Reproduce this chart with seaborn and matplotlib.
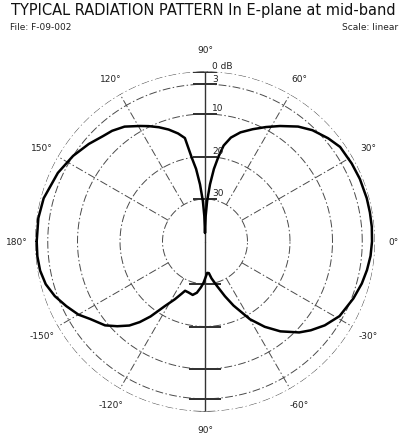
import numpy as np
import pandas as pd
import matplotlib
matplotlib.use("Agg")
import matplotlib.pyplot as plt
import matplotlib.transforms as mtransforms
import seaborn as sns

# ---- data ----
angles_deg = [-180, -175, -170, -165, -160, -155, -150, -146, -140, -136, -132, -129,
              -126, -122, -117.5, -114, -112, -108, -103, -99, -95, -92, -89, -86,
              -83, -80, -75, -70, -66, -60, -55, -50, -44, -40, -35, -29, -21, -15,
              -10, -5, 0, 5, 10, 15, 22, 28, 35, 40, 46, 51, 57, 62, 67, 72, 76,
              79, 81, 83, 85, 87, 88.5, 89.5, 90, 90.5, 91.5, 93, 95, 97, 99, 101,
              104, 108, 112, 116, 119.4, 125, 130, 134, 140, 147, 155, 165, 172, 180]
gain_db = [-0.4, -0.4, -0.6, -1.2, -2.4, -4.0, -5.6, -7.4, -9.3, -11.3, -13.4, -15.6,
           -18.2, -22.0, -24.7, -26.6, -27.5, -27.4, -27.1, -27.8, -29.2, -30.3, -31.6, -32.6,
           -32.5, -31.2, -29.2, -26.3, -23.5, -18.9, -15.5, -12.4, -9.2, -7.5, -5.6, -3.8, -2.6, -1.8,
           -1.3, -0.9, -0.7, -0.6, -0.6, -0.6, -0.7, -0.9, -1.2, -2.2, -3.6, -5.2, -7.6, -9.5, -11.3, -13.0, -14.8,
           -17.0, -19.8, -22.8, -26.5, -30.5, -34.0, -37.5, -38.0, -37.5, -34.0, -30.5, -26.5, -22.8, -20.0, -15.2,
           -13.8, -12.3, -11.0, -9.8, -8.8, -7.0, -6.0, -5.5, -4.3, -3.0, -1.8, -0.7, -0.4, -0.4]

ring_db = [0, -3, -10, -20, -30]
ring_labels = ["0 dB", "3", "10", "20", "30"]
spoke_deg = [30, 60, 120, 150, 210, 240, 300, 330]
theta_label_deg = [0, 30, 60, 90, 120, 150, 180, 210, 240, 270, 300, 330]
theta_labels = ["0°", "30°", "60°", "90°", "120°", "150°", "180°",
                "-150°", "-120°", "90°", "-60°", "-30°"]

title = "TYPICAL RADIATION PATTERN In E-plane at mid-band"
file_label = "File: F-09-002"
scale_label = "Scale: linear"

# ---- figure ----
sns.set_style("white")
plt.rcParams['font.family'] = ['DejaVu Sans']

W, H = 406, 439
fig = plt.figure(figsize=(W / 100, H / 100), dpi=100)
cx, cy, R = 205, 242.5, 170
ax = fig.add_axes([(cx - R) / W, (H - cy - R) / H, 2 * R / W, 2 * R / H], projection='polar')
ax.set_ylim(-40, 0)
ax.grid(False)
ax.set_xticks([])
ax.set_yticks([])
ax.spines['polar'].set_visible(False)
ax.patch.set_alpha(0)

grid_col = '#4a4a4a'
dash = (8, 2.5, 1.5, 2.5)
full = np.linspace(0, 2 * np.pi, 721)
for r in ring_db:
    ax.plot(full, np.full_like(full, r), color=grid_col, lw=0.7, dashes=dash)
for a in spoke_deg:
    ax.plot([np.deg2rad(a)] * 2, [-30, 0], color=grid_col, lw=0.7, dashes=dash)

# vertical axis through centre with ticks at rings
for a in (90, 270):
    ax.plot([np.deg2rad(a)] * 2, [-40, 0], color='#333333', lw=1.0)
ax.plot([np.pi / 2] * len(ring_db), ring_db, ls='none', marker='_', ms=17, mew=1.1, color='#333333')
ax.plot([3 * np.pi / 2] * len(ring_db), ring_db, ls='none', marker='_', ms=23, mew=1.1, color='#333333')

# pattern curve
df = pd.DataFrame({"theta": np.deg2rad(angles_deg), "gain": gain_db})
sns.lineplot(data=df, x="theta", y="gain", ax=ax, sort=False, estimator=None,
             color='black', lw=1.8)
ax.set_xlabel("")
ax.set_ylabel("")
ax.set_ylim(-40, 0)

# angle labels
for a, lab in zip(theta_label_deg, theta_labels):
    rr = 5.2 if a == 90 else 4.3
    ax.text(np.deg2rad(a), rr, lab, ha='center', va='center', fontsize=6.5,
            color='#222222', clip_on=False)

# ring labels
off = mtransforms.offset_copy(ax.transData, fig=fig, x=7, y=6, units='dots')
for r, lab in zip(ring_db, ring_labels):
    ax.text(np.pi / 2, r, lab, transform=off, ha='left', va='center', fontsize=6.5,
            color='#222222')

fig.text(0.5, 1 - 11 / H, title, ha='center', va='center', fontsize=10.5, color='#111111')
fig.text(10 / W, 1 - 28 / H, file_label, ha='left', va='center', fontsize=6.5, color='#222222')
fig.text(398 / W, 1 - 28 / H, scale_label, ha='right', va='center', fontsize=6.5, color='#222222')

fig.savefig("out.png", dpi=100)
